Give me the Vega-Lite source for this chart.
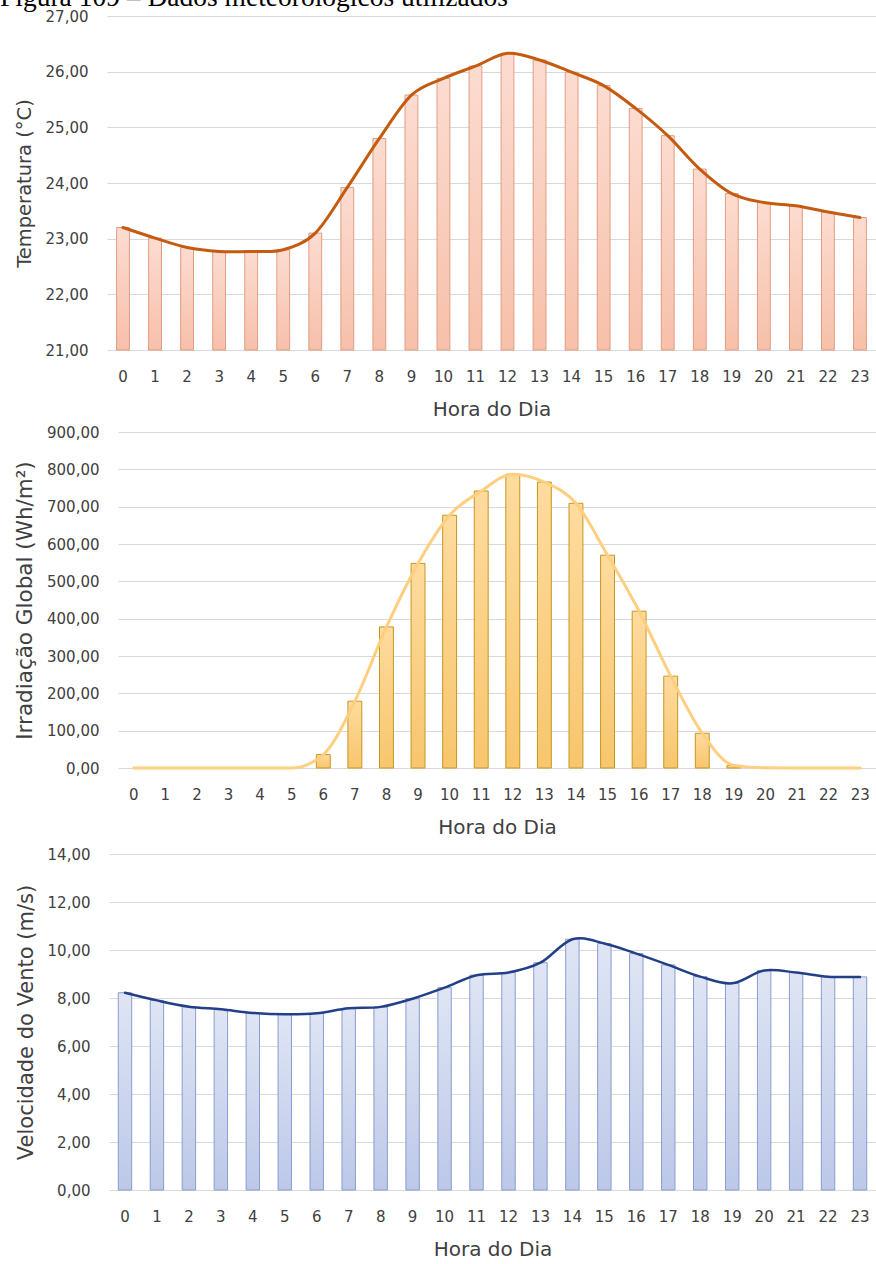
{
  "$schema": "https://vega.github.io/schema/vega-lite/v6.json",
  "padding": {"left": 0, "top": -16, "right": 0, "bottom": 0},
  "title": {
    "text": "Figura 109 – Dados meteorológicos utilizados",
    "anchor": "start",
    "frame": "bounds",
    "dx": -14,
    "offset": -2.5,
    "font": "Liberation Serif",
    "fontSize": 27.5,
    "fontWeight": "normal",
    "color": "#000000"
  },
  "data": {
    "values": [
      {"hora": 0, "temp": 23.20, "irr": 0, "vento": 8.22},
      {"hora": 1, "temp": 23.01, "irr": 0, "vento": 7.90},
      {"hora": 2, "temp": 22.84, "irr": 0, "vento": 7.64},
      {"hora": 3, "temp": 22.77, "irr": 0, "vento": 7.53},
      {"hora": 4, "temp": 22.77, "irr": 0, "vento": 7.38},
      {"hora": 5, "temp": 22.80, "irr": 0, "vento": 7.32},
      {"hora": 6, "temp": 23.10, "irr": 36, "vento": 7.36},
      {"hora": 7, "temp": 23.92, "irr": 179, "vento": 7.57},
      {"hora": 8, "temp": 24.80, "irr": 378, "vento": 7.63},
      {"hora": 9, "temp": 25.58, "irr": 548, "vento": 7.97},
      {"hora": 10, "temp": 25.88, "irr": 677, "vento": 8.43},
      {"hora": 11, "temp": 26.10, "irr": 742, "vento": 8.95},
      {"hora": 12, "temp": 26.33, "irr": 787, "vento": 9.06},
      {"hora": 13, "temp": 26.21, "irr": 766, "vento": 9.47},
      {"hora": 14, "temp": 25.99, "irr": 709, "vento": 10.45},
      {"hora": 15, "temp": 25.75, "irr": 570, "vento": 10.27},
      {"hora": 16, "temp": 25.34, "irr": 420, "vento": 9.85},
      {"hora": 17, "temp": 24.85, "irr": 246, "vento": 9.38},
      {"hora": 18, "temp": 24.25, "irr": 93, "vento": 8.89},
      {"hora": 19, "temp": 23.81, "irr": 7, "vento": 8.61},
      {"hora": 20, "temp": 23.65, "irr": 0.5, "vento": 9.15},
      {"hora": 21, "temp": 23.59, "irr": 0, "vento": 9.06},
      {"hora": 22, "temp": 23.48, "irr": 0, "vento": 8.89},
      {"hora": 23, "temp": 23.38, "irr": 0, "vento": 8.88}
    ]
  },
  "spacing": 10,
  "vconcat": [
    {
      "spacing": 6,
      "vconcat": [
        {
          "width": 769,
          "height": 334,
          "encoding": {
            "x": {
              "field": "hora", "type": "ordinal",
              "scale": {"paddingInner": 0.6, "paddingOuter": 0.3},
              "axis": {"title": "Hora do Dia", "labelAngle": 0, "ticks": false, "tickSize": 0, "domain": false, "grid": false, "labelPadding": 19, "titlePadding": 15, "titleFontSize": 20, "labelFontSize": 15}
            },
            "y": {
              "field": "temp", "type": "quantitative",
              "scale": {"domain": [21, 27], "zero": false, "nice": false},
              "axis": {"title": "Temperatura (°C)", "values": [21, 22, 23, 24, 25, 26, 27], "labelExpr": "replace(format(datum.value, '.2f'), '.', ',')", "grid": true, "ticks": false, "tickSize": 0, "domain": false, "labelPadding": 19, "titlePadding": 10.5, "titleFontSize": 19.5, "labelFontSize": 15, "labelFlush": false}
            }
          },
          "layer": [
            {
              "mark": {
                "type": "bar",
                "fill": {"gradient": "linear", "x1": 0, "y1": 0, "x2": 0, "y2": 1, "stops": [{"offset": 0, "color": "#fcdcd0"}, {"offset": 1, "color": "#f7c0aa"}]},
                "stroke": "#e29c82", "strokeWidth": 1
              },
              "encoding": {"y2": {"datum": 21}}
            },
            {
              "mark": {"type": "line", "color": "#c55a11", "strokeWidth": 3, "interpolate": "cardinal", "tension": 0, "strokeCap": "round"},
              "encoding": {}
            }
          ]
        },
        {
          "width": 769,
          "height": 336,
          "encoding": {
            "x": {
              "field": "hora", "type": "ordinal",
              "scale": {"range": [11, 769], "paddingInner": 0.56, "paddingOuter": 0.28},
              "axis": {"title": "Hora do Dia", "labelAngle": 0, "ticks": false, "tickSize": 0, "domain": false, "grid": false, "labelPadding": 19, "titlePadding": 15, "titleFontSize": 20, "labelFontSize": 15}
            },
            "y": {
              "field": "irr", "type": "quantitative",
              "scale": {"domain": [0, 900], "nice": false},
              "axis": {"title": "Irradiação Global (Wh/m²)", "values": [0, 100, 200, 300, 400, 500, 600, 700, 800, 900], "labelExpr": "replace(format(datum.value, '.2f'), '.', ',')", "grid": true, "ticks": false, "tickSize": 0, "domain": false, "labelPadding": 8, "titlePadding": 10.5, "titleFontSize": 21.5, "labelFontSize": 15, "labelFlush": false}
            }
          },
          "layer": [
            {
              "transform": [{"filter": "datum.irr > 0"}],
              "mark": {
                "type": "bar",
                "fill": {"gradient": "linear", "x1": 0, "y1": 0, "x2": 0, "y2": 1, "stops": [{"offset": 0, "color": "#ffdb9e"}, {"offset": 1, "color": "#f7c66d"}]},
                "stroke": "#c8961e", "strokeWidth": 1
              },
              "encoding": {"y2": {"datum": 0}}
            },
            {
              "mark": {"type": "line", "color": "#ffcf7f", "strokeWidth": 3, "interpolate": "monotone", "strokeCap": "round"},
              "encoding": {}
            }
          ]
        }
      ]
    },
    {
      "width": 769,
      "height": 336,
      "encoding": {
        "x": {
          "field": "hora", "type": "ordinal",
          "scale": {"range": [2, 769], "paddingInner": 0.58, "paddingOuter": 0.29},
          "axis": {"title": "Hora do Dia", "labelAngle": 0, "ticks": false, "tickSize": 0, "domain": false, "grid": false, "labelPadding": 19, "titlePadding": 15, "titleFontSize": 20, "labelFontSize": 15}
        },
        "y": {
          "field": "vento", "type": "quantitative",
          "scale": {"domain": [0, 14], "nice": false},
          "axis": {"title": "Velocidade do Vento (m/s)", "values": [0, 2, 4, 6, 8, 10, 12, 14], "labelExpr": "replace(format(datum.value, '.2f'), '.', ',')", "grid": true, "ticks": false, "tickSize": 0, "domain": false, "labelPadding": 17, "titlePadding": 11, "titleFontSize": 21, "labelFontSize": 15, "labelFlush": false}
        }
      },
      "layer": [
        {
          "mark": {
            "type": "bar",
            "fill": {"gradient": "linear", "x1": 0, "y1": 0, "x2": 0, "y2": 1, "stops": [{"offset": 0, "color": "#dfe5f4"}, {"offset": 1, "color": "#bcc8e8"}]},
            "stroke": "#8a9dcf", "strokeWidth": 1
          },
          "encoding": {"y2": {"datum": 0}}
        },
        {
          "mark": {"type": "line", "color": "#223f87", "strokeWidth": 2.5, "interpolate": "cardinal", "tension": 0, "strokeCap": "round"},
          "encoding": {}
        }
      ]
    }
  ],
  "config": {
    "view": {"stroke": null},
    "font": "DejaVu Sans",
    "axis": {
      "labelFont": "DejaVu Sans",
      "labelFontSize": 15,
      "labelColor": "#404040",
      "titleFont": "DejaVu Sans",
      "titleColor": "#404040",
      "titleFontWeight": "normal",
      "gridColor": "#d9d9d9",
      "gridWidth": 1
    }
  }
}
